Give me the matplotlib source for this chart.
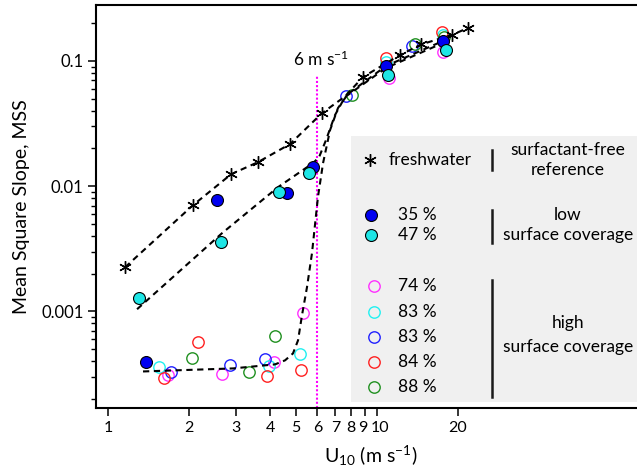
import matplotlib
matplotlib.use("Agg")
import matplotlib.pyplot as plt
from matplotlib.ticker import FixedLocator, FixedFormatter, NullLocator, LogLocator, NullFormatter
from matplotlib.patches import Rectangle
from matplotlib.transforms import ScaledTranslation

FONT = "Lato"
plt.rcParams.update({
    "font.family": [FONT, "DejaVu Sans"],
    "mathtext.fontset": "custom",
    "mathtext.rm": FONT,
    "mathtext.it": FONT,
    "mathtext.default": "regular",
})

# --- measured points (U10 in m/s, MSS) -----------------------------------
FW_U = [1.157, 2.07, 2.87, 3.61, 4.75, 6.25, 8.87, 12.18, 14.58, 19.0, 21.8]
FW_M = [0.00225, 0.00705, 0.01247, 0.01556, 0.0217, 0.0384, 0.0745, 0.1117,
        0.1355, 0.1615, 0.1837]

C35_U = [1.384, 2.54, 4.63, 5.78, 10.8, 17.6]
C35_M = [3.91e-4, 0.00773, 0.00879, 0.01419, 0.0912, 0.1445]

C47_U = [1.304, 2.63, 4.32, 5.59, 10.99, 18.06]
C47_M = [1.29e-3, 3.56e-3, 8.95e-3, 0.0127, 0.0773, 0.1225]

C74_U = [1.67, 2.65, 4.14, 5.31, 11.08, 17.6]
C74_M = [3.08e-4, 3.13e-4, 3.91e-4, 9.64e-4, 0.0731, 0.118]

C83A_U = [1.548, 3.97, 5.17, 10.8, 17.6]
C83A_M = [3.56e-4, 3.63e-4, 4.53e-4, 0.0982, 0.162]

C83B_U = [1.715, 2.84, 3.83, 7.67, 13.49]
C83B_M = [3.25e-4, 3.70e-4, 4.13e-4, 0.0525, 0.1318]

C84_U = [1.615, 2.16, 3.90, 5.22, 10.8, 17.45]
C84_M = [2.91e-4, 5.65e-4, 3.02e-4, 3.37e-4, 0.1057, 0.1706]

C88_U = [2.05, 3.34, 4.18, 8.07, 13.85, 17.75]
C88_M = [4.21e-4, 3.25e-4, 6.31e-4, 0.0535, 0.1368, 0.1556]

# --- fit curves -----------------------------------------------------------
FIT_FW_U = [1.157, 2.07, 2.87, 3.61, 4.75, 6.25, 7.6, 8.87, 12.18, 14.58, 19.0, 21.8]
FIT_FW_M = [0.00225, 0.00705, 0.01247, 0.01556, 0.0217, 0.0384, 0.052, 0.0745,
            0.1117, 0.1355, 0.1615, 0.1837]

FIT_LOW_U = [1.282, 2.653, 4.285, 5.78, 6.09, 6.46, 6.98, 7.60, 10.8, 17.6]
FIT_LOW_M = [1.04e-3, 4.21e-3, 9.82e-3, 0.01528, 0.01706, 0.02333, 0.0370,
             0.0515, 0.0879, 0.1393]

FIT_HIGH_U = [1.349, 2.915, 4.176, 4.55, 4.87, 5.085, 5.26, 5.49, 5.73, 6.03,
              6.30, 6.69, 7.16, 7.80, 10.8, 17.6]
FIT_HIGH_M = [3.31e-4, 3.50e-4, 3.77e-4, 4.06e-4, 4.61e-4, 5.86e-4, 9.29e-4,
              1.556e-3, 2.91e-3, 8.17e-3, 0.01528, 0.02805, 0.0421, 0.0545,
              0.0912, 0.1445]

U_REF = 6.0
U_REF_TOP = 0.0773

X_TICKS = [1, 2, 3, 4, 5, 6, 7, 8, 9, 10, 20]
Y_TICKS = [0.001, 0.01, 0.1]
Y_TICKLABELS = ["0.001", "0.01", "0.1"]

BLUE, CYAN = "#0000F0", "#1EE6E6"
OPEN = [("74 %", C74_U, C74_M, "#FF30FF"),
        ("83 %", C83A_U, C83A_M, "#20F0F0"),
        ("83 %", C83B_U, C83B_M, "#2020FF"),
        ("84 %", C84_U, C84_M, "#FF2020"),
        ("88 %", C88_U, C88_M, "#209020")]

STAR = (6, 2, 0)


def main():
    fig = plt.figure(figsize=(6.37, 4.76), dpi=100)
    ax = fig.add_axes([96 / 637, 1 - 408 / 476, 550 / 637, 403 / 476])
    ax.set_xscale("log")
    ax.set_yscale("log")
    ax.set_xlim(0.902, 100)
    ax.set_ylim(1.69e-4, 0.28)

    dash = dict(color="black", lw=1.5, ls=(0, (3, 2.2)), zorder=3)
    ax.plot(FIT_FW_U, FIT_FW_M, **dash)
    ax.plot(FIT_LOW_U, FIT_LOW_M, **dash)
    ax.plot(FIT_HIGH_U, FIT_HIGH_M, **dash)

    ax.vlines(U_REF, 1.69e-4, U_REF_TOP, color="#FF00FF", lw=1.5,
              ls=(0, (1, 1)), zorder=2)
    ax.text(6.22, 0.092, r"6 m s$^{-1}$", ha="center", va="baseline",
            fontsize=12.5)

    for _, u, m, c in OPEN:
        ax.plot(u, m, ls="none", marker="o", ms=8.2, mfc="none", mec=c,
                mew=1.0, zorder=2)

    ax.plot(FW_U, FW_M, ls="none", marker=STAR, ms=9, color="black",
            mew=1.0, zorder=4)
    ax.plot(C35_U, C35_M, ls="none", marker="o", ms=8.6, mfc=BLUE,
            mec="black", mew=0.8, zorder=5)
    ax.plot(C47_U, C47_M, ls="none", marker="o", ms=8.6, mfc=CYAN,
            mec="black", mew=0.8, zorder=5)

    # legend panel, laid out by hand
    T = ax.transAxes
    ax.add_patch(Rectangle((0.4636, 0.0149), 0.6, 0.6604, transform=T,
                           facecolor="#F0F0F0", edgecolor="none", zorder=6))
    fs = 12.5
    ax.plot([0.498], [0.6154], transform=T, marker=STAR, ms=9, color="black",
            mew=1.0, zorder=7)
    ax.text(0.5327, 0.6154, "freshwater", transform=T, va="center",
            fontsize=fs, zorder=7)
    ax.plot([0.5], [0.479], transform=T, marker="o", ms=8.6, mfc=BLUE,
            mec="black", mew=0.8, zorder=7)
    ax.plot([0.5], [0.429], transform=T, marker="o", ms=8.6, mfc=CYAN,
            mec="black", mew=0.8, zorder=7)
    ax.text(0.549, 0.479, "35 %", transform=T, va="center", fontsize=fs, zorder=7)
    ax.text(0.549, 0.429, "47 %", transform=T, va="center", fontsize=fs, zorder=7)
    ys = [0.3027, 0.2382, 0.1762, 0.1141, 0.0521]
    for (lab, _, _, c), y in zip(OPEN, ys):
        ax.plot([0.5055], [y], transform=T, marker="o", ms=8.2, mfc="none",
                mec=c, mew=1.0, zorder=7)
        ax.text(0.549, y, lab, transform=T, va="center", fontsize=fs, zorder=7)
    for y0, y1 in [(0.640, 0.5906), (0.491, 0.409), (0.3176, 0.0273)]:
        ax.plot([0.72, 0.72], [y0, y1], transform=T, color="#1A1A1A", lw=1.8,
                zorder=7)
    for y, s in [(0.640, "surfactant-free"), (0.5906, "reference"),
                 (0.479, "low"), (0.429, "surface coverage"),
                 (0.2109, "high"), (0.1514, "surface coverage")]:
        ax.text(0.858, y, s, transform=T, ha="center", va="center",
                fontsize=fs, zorder=7)

    # axes styling
    for side in ["left", "bottom", "top", "right"]:
        ax.spines[side].set_linewidth(1.5)
    ax.xaxis.set_major_locator(FixedLocator(X_TICKS))
    ax.xaxis.set_major_formatter(FixedFormatter([str(t) for t in X_TICKS]))
    ax.xaxis.set_minor_locator(NullLocator())
    ax.yaxis.set_major_locator(FixedLocator(Y_TICKS))
    ax.yaxis.set_major_formatter(FixedFormatter(Y_TICKLABELS))
    ax.yaxis.set_minor_locator(LogLocator(base=10, subs=range(2, 10)))
    ax.yaxis.set_minor_formatter(NullFormatter())
    ax.tick_params(which="major", direction="out", length=6, width=1.1,
                   labelsize=12, pad=3)
    ax.tick_params(axis="x", labelsize=11.5)
    ax.tick_params(which="minor", direction="out", length=3.5, width=1.0)
    ax.tick_params(axis="x", top=False)

    # the 9 and 10 labels sit very close on a log axis: nudge them apart
    ticks = ax.xaxis.get_major_ticks()
    for i, dx in [(8, -1.5), (9, 2.5)]:
        lab = ticks[i].label1
        lab.set_transform(lab.get_transform()
                          + ScaledTranslation(dx / 72, 0, fig.dpi_scale_trans))

    ax.set_ylabel("Mean Square Slope, MSS", fontsize=14, labelpad=8)
    ax.set_xlabel(r"U$_{10}$ (m s$^{-1}$)", fontsize=14, labelpad=7)

    fig.savefig("out.png", dpi=100, facecolor="white")


if __name__ == "__main__":
    main()
